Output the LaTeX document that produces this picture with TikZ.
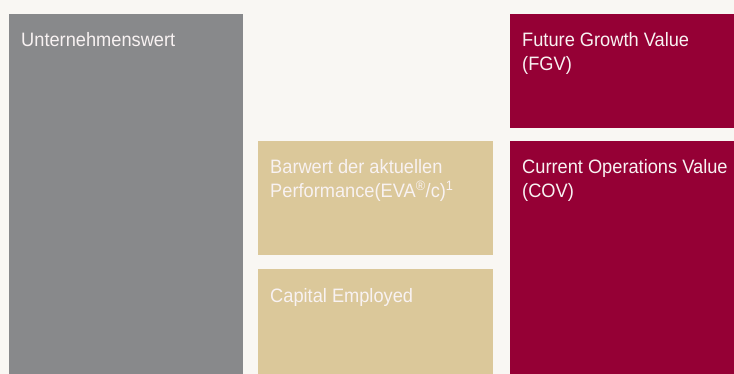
\documentclass[tikz,border=0pt]{standalone}
\usepackage{fontspec}
\setmainfont{Liberation Sans}[FakeStretch=0.94]
\usepackage{tikz}

\definecolor{bgcream}{HTML}{F9F7F3}
\definecolor{evagray}{HTML}{88898B}
\definecolor{evatan}{HTML}{DBC89A}
\definecolor{evared}{HTML}{950035}
\definecolor{labelwhite}{HTML}{F8F2F2}

\tikzset{
	block/.style={inner sep=0pt, outer sep=0pt, anchor=north west},
	blocktext/.style={inner sep=0pt, anchor=base west, align=left, text=labelwhite,
		font=\fontsize{19.4}{24}\selectfont}
}

\begin{document}
\begin{tikzpicture}[x=1pt,y=-1pt]
	%BACKGROUND
	\fill[bgcream] (0,0) rectangle (734,374);
	\useasboundingbox (0,0) rectangle (734,374);

	%LEFT COLUMN
	\node[block,fill=evagray,minimum width=234pt,minimum height=360pt] (total) at (9,14) {};

	%MIDDLE COLUMN
	\node[block,fill=evatan,minimum width=235pt,minimum height=114pt] (barwert) at (258,141) {};
	\node[block,fill=evatan,minimum width=235pt,minimum height=105pt] (capital) at (258,269) {};

	%RIGHT COLUMN
	\node[block,fill=evared,minimum width=224pt,minimum height=114pt] (fgv) at (510,14) {};
	\node[block,fill=evared,minimum width=224pt,minimum height=233pt] (cov) at (510,141) {};

	%LABELS (base of the last line, so two-line labels sit 24pt lower)
	\node[blocktext] (totaltext) at ([shift={(12,33)}]total.north west) {Unternehmenswert};
	\node[blocktext] (barwerttext) at ([shift={(12,57)}]barwert.north west) {Barwert der aktuellen\\Performance(EVA\textsuperscript{®}/c)\textsuperscript{1}};
	\node[blocktext] (capitaltext) at ([shift={(12,33)}]capital.north west) {Capital Employed};
	\node[blocktext] (fgvtext) at ([shift={(12,57)}]fgv.north west) {Future Growth Value\\(FGV)};
	\node[blocktext] (covtext) at ([shift={(12,57)}]cov.north west) {Current Operations Value\\(COV)};
\end{tikzpicture}
\end{document}
